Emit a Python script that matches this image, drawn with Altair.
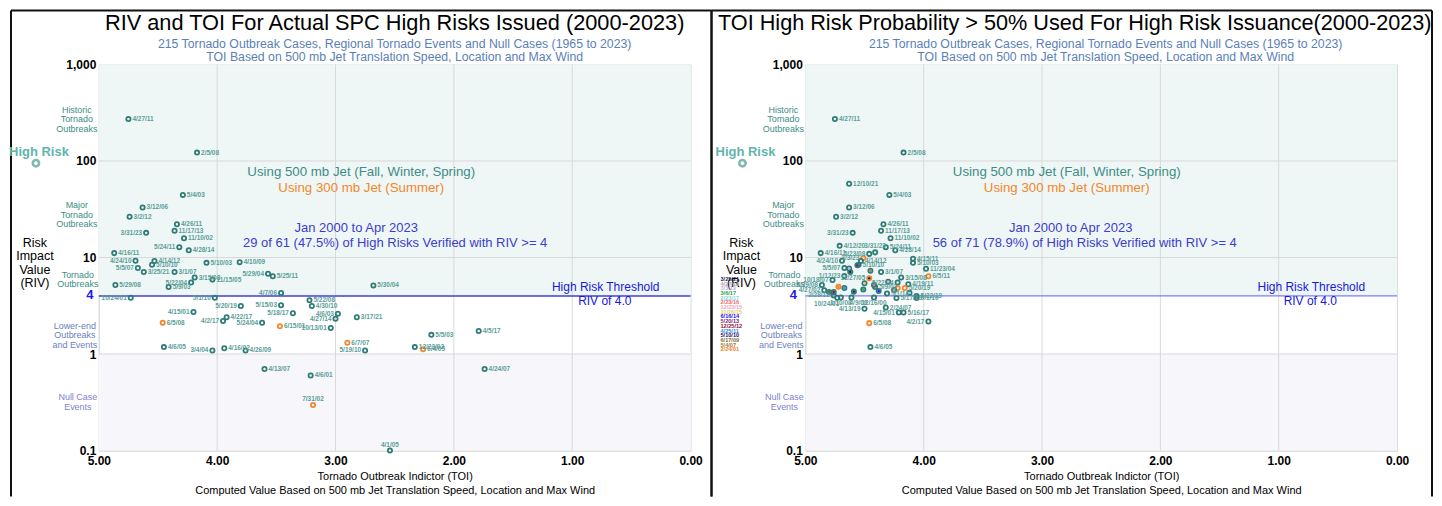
import altair as alt
import pandas as pd

FONT = "Liberation Sans"
W, H = 593, 387
TEAL = "#2f7b77"
ORANGE = "#f3862c"
LBL = "#5a9d99"
GRID = "#d9d9d9"
MINT = "#eef7f5"
LAV = "#f6f6fb"

X_TICKS = [0, 1, 2, 3, 4, 5]
Y_TICKS = [0.1, 1, 10, 100, 1000]
THRESHOLD = 4

# ---------------- left panel data ----------------
L_DATES = ["4/27/11", "2/5/08", "5/4/03", "3/12/06", "3/2/12", "4/26/11", "11/17/13", "3/31/23",
           "11/10/02", "5/24/11", "4/28/14", "4/16/11", "4/24/10", "4/14/12", "5/10/10", "5/5/07",
           "3/25/21", "3/1/07", "3/15/08", "11/15/05", "5/22/04", "5/9/03", "5/29/08", "5/10/03",
           "4/10/09", "5/29/04", "5/25/11", "5/30/04", "4/7/06", "10/24/01", "5/1/10", "5/20/19",
           "5/15/03", "5/22/08", "4/30/10", "4/15/01", "5/18/17", "4/6/03", "4/22/17", "4/2/17",
           "3/17/21", "4/27/14", "5/24/04", "10/13/01", "4/6/05", "3/4/04", "4/16/02", "4/26/09",
           "5/19/10", "4/13/07", "4/6/01", "5/5/03", "4/5/17", "12/23/02", "4/24/07", "4/1/05",
           "6/5/08", "6/15/01", "6/7/07", "6/4/05", "7/31/02"]
L_TOI = [4.75, 4.17, 4.29, 4.63, 4.74, 4.34, 4.36, 4.60,
         4.28, 4.32, 4.24, 4.87, 4.69, 4.53, 4.55, 4.67,
         4.62, 4.36, 4.19, 4.04, 4.22, 4.41, 4.86, 4.09,
         3.81, 3.57, 3.53, 2.68, 3.46, 4.73, 4.02, 3.80,
         3.46, 3.22, 3.20, 4.20, 3.36, 2.98, 3.92, 3.95,
         2.82, 3.00, 3.62, 3.04, 4.45, 4.04, 3.94, 3.76,
         2.75, 3.60, 3.21, 2.19, 1.79, 2.33, 1.74, 2.54,
         4.46, 3.47, 2.90, 2.26, 3.19]
L_RIV = [272, 122, 44.5, 33, 26.4, 22.1, 18.9, 18.0,
         15.8, 12.8, 11.9, 11.1, 9.25, 9.2, 8.4, 7.8,
         7.06, 7.06, 6.2, 5.9, 5.5, 4.95, 5.2, 8.8,
         8.95, 6.8, 6.4, 5.14, 4.29, 3.83, 3.83, 3.14,
         3.2, 3.6, 3.14, 2.72, 2.64, 2.62, 2.40, 2.2,
         2.4, 2.32, 2.11, 1.86, 1.18, 1.09, 1.15, 1.09,
         1.09, 0.70, 0.60, 1.58, 1.73, 1.18, 0.70, 0.1,
         2.11, 1.94, 1.31, 1.12, 0.296]
L_SUMMER = {"6/5/08", "6/15/01", "6/7/07", "6/4/05", "7/31/02"}
L_LABEL_LEFT = {"3/31/23", "5/24/11", "4/24/10", "5/5/07", "5/22/04", "5/29/04", "4/7/06", "10/24/01",
                "5/1/10", "5/20/19", "5/15/03", "4/15/01", "5/18/17", "4/6/03", "4/2/17", "4/27/14",
                "5/24/04", "10/13/01", "3/4/04", "5/19/10"}
L_LABEL_ABOVE = {"4/1/05", "7/31/02"}

# ---------------- right panel data ----------------
R_DATES = ["4/27/11", "2/5/08", "12/10/21", "5/4/03", "3/12/06", "3/2/12", "4/26/11", "11/17/13",
           "3/31/23", "11/10/02", "4/12/20", "5/24/11", "4/28/14", "4/16/11", "5/23/08", "3/31/23 ",
           "4/24/10", "3/3/23", "4/14/12", "5/10/10", "5/5/07", "3/1/07", "1/12/23", "11/27/05",
           "3/15/08", "4/19/11", "5/22/04", "10/18/07", "5/29/08", "5/10/03", "4/15/11", "11/23/04",
           "6/5/11", "5/20/19", "5/20/19 ", "5/9/03", "4/27/02", "5/1/14", "5/22/19", "5/1/10",
           "5/17/19", "2/28/12", "10/24/01", "1/10/08", "4/9/08", "12/16/00", "4/13/19", "2/24/07",
           "4/15/01", "5/16/17", "4/2/17", "6/5/08", "4/6/05",
           "3/25/21", "c1", "c2", "c3", "c4", "c5", "c6", "c7", "c8", "c9", "c10", "c11", "c12",
           "c13", "c14", "c15"]
R_TOI = [4.75, 4.17, 4.63, 4.29, 4.63, 4.74, 4.34, 4.36,
         4.60, 4.28, 4.71, 4.32, 4.24, 4.87, 4.46, 4.41,
         4.69, 4.51, 4.53, 4.55, 4.67, 4.36, 4.67, 4.46,
         4.19, 4.13, 4.22, 4.77, 4.86, 4.09, 4.09, 3.98,
         3.96, 4.16, 4.22, 4.41, 4.84, 4.31, 4.06, 4.06,
         4.23, 4.76, 4.73, 4.70, 4.61, 4.42, 4.50, 4.32,
         4.21, 4.17, 3.96, 4.46, 4.45,
         4.62, 4.59, 4.51, 4.38, 4.67, 4.72, 4.76, 4.80, 4.56, 4.63, 4.42, 4.30, 4.50,
         4.25, 4.12, 4.45]
R_RIV = [272, 122, 58, 44.5, 33, 26.4, 22.1, 18.9,
         18.0, 15.8, 13.2, 12.8, 11.9, 11.1, 10.9, 11.3,
         9.25, 9.9, 9.2, 8.4, 7.8, 7.06, 6.44, 6.1,
         6.2, 5.28, 5.5, 5.85, 5.2, 8.8, 9.7, 7.65,
         6.4, 4.84, 4.84, 4.95, 4.58, 4.23, 3.99, 3.81,
         3.81, 4.05, 3.83, 3.85, 3.85, 3.85, 2.94, 3.03,
         2.69, 2.69, 2.17, 2.09, 1.18,
         7.06, 4.43, 4.65, 4.5, 4.84, 4.98, 4.4, 4.4, 8.3, 7.7, 5.2, 5.6, 5.4,
         4.6, 4.3, 7.3]
R_SUMMER = {"3/3/23", "11/27/05", "6/5/11", "5/20/19", "5/20/19 ", "6/5/08", "c5"}
R_LABEL_LEFT = {"3/31/23", "5/23/08", "4/24/10", "3/3/23", "5/5/07", "1/12/23", "11/27/05", "5/22/04",
                "10/18/07", "5/29/08", "4/27/02", "2/28/12", "4/13/19", "4/15/01", "4/2/17"}
R_LABEL_ABOVE = {"3/31/23 "}
R_LABEL_BELOW = {"1/10/08", "12/16/00"}
R_LABEL_BELOW_LEFT = {"10/24/01"}
R_LABEL_BELOW_RIGHT = {"4/9/08"}
R_UNLABELLED = {"5/20/19 ", "3/25/21", "c1", "c2", "c3", "c4", "c5", "c6", "c7", "c8", "c9", "c10",
                "c11", "c12", "c13", "c14", "c15"}

LEGEND_DATES = ["3/25/21", "4/27/19", "3/3/19", "3/6/17", "2/23/17", "2/23/16", "12/23/15", "11/16/15",
                "6/16/14", "5/20/13", "12/25/12", "4/25/11", "5/10/10", "6/17/09", "5/4/07", "2/24/01"]
LEGEND_COLORS = ["#1d1d5e", "#a9a9a9", "#c6b6e6", "#1fa64a", "#8fd6e8", "#ef6b6b", "#f2a2b8", "#d8cf70",
                 "#1414e6", "#7e1f86", "#8e1030", "#2f84f0", "#2c0f62", "#7d6d3a", "#a8763e", "#f0831e"]
R_LEGEND_KEY = {"3/25/21": "3/25/21", "c1": "5/10/10", "c2": "3/6/17", "c3": "6/16/14", "c4": "4/25/11",
                "c5": "2/24/01", "c6": "12/25/12", "c7": "6/17/09", "c8": "5/20/13", "c9": "3/3/19",
                "c10": "2/23/16", "c11": "12/23/15", "c12": "11/16/15", "c13": "4/27/19", "c14": "2/23/17",
                "c15": "5/4/07", "11/27/05": "3/25/21"}

ONE = pd.DataFrame({"k": [0]})

X_SCALE = alt.Scale(domain=[0, 5], reverse=True)
Y_SCALE = alt.Scale(type="log", domain=[0.1, 1000])
X_AXIS = alt.Axis(values=X_TICKS, format=".2f", labelFont=FONT, labelFontSize=12, labelFontWeight="bold",
                  labelColor="black", labelFlush=False, labelPadding=5, ticks=False, grid=False,
                  domainColor=GRID, title=None)
Y_AXIS = alt.Axis(values=Y_TICKS, format=",", labelFont=FONT, labelFontSize=12, labelFontWeight="bold",
                  labelColor="black", labelPadding=3, ticks=False, grid=False, domainColor=GRID, title=None)
X = alt.X("toi:Q", scale=X_SCALE, axis=X_AXIS)
Y = alt.Y("riv:Q", scale=Y_SCALE, axis=Y_AXIS)


def points_frame(dates, toi, riv, summer, left=(), above=(), below=(), bl=(), br=(), none=(), keys=None):
    side = []
    for d in dates:
        if d in none:
            side.append("N")
        elif d in left:
            side.append("L")
        elif d in above:
            side.append("A")
        elif d in below:
            side.append("B")
        elif d in bl:
            side.append("BL")
        elif d in br:
            side.append("BR")
        else:
            side.append("R")
    return pd.DataFrame({
        "date": [d.strip() for d in dates],
        "toi": toi,
        "riv": riv,
        "jet": ["300 mb" if d in summer else "500 mb" for d in dates],
        "side": side,
        "key": [(keys or {}).get(d, "") for d in dates],
    })


def note(text, x, y, color="black", size=12, weight="normal", align="center", line_height=None):
    kw = dict(align=align, baseline="middle", font=FONT, fontSize=size, fontWeight=weight, color=color)
    if line_height:
        kw["lineHeight"] = line_height
    return alt.Chart(ONE).mark_text(**kw).encode(x=alt.value(x), y=alt.value(y), text=alt.value(text))


def border(x=None, x2=None, y=None, y2=None):
    enc = {}
    for k, v in (("x", x), ("x2", x2), ("y", y), ("y2", y2)):
        if v is not None:
            enc[k] = alt.value(v)
    return alt.Chart(ONE).mark_rule(color="#111111", strokeWidth=2).encode(**enc)


SIDES = {
    "R": dict(align="left", dx=4, dy=0),
    "L": dict(align="right", dx=-4, dy=0),
    "A": dict(align="center", dx=0, dy=-6),
    "B": dict(align="center", dx=0, dy=6),
    "BL": dict(align="right", dx=2, dy=6),
    "BR": dict(align="left", dx=-2, dy=6),
}


def base_layers(frame_x, frame_x2):
    return [
        border(x=frame_x, y=-54, y2=433),
        border(x=frame_x2, y=-54, y2=433),
        border(x=frame_x, x2=frame_x2, y=-54),
        alt.Chart(pd.DataFrame({"toi": [5], "toi2": [0], "riv": [THRESHOLD], "riv2": [1000]}))
        .mark_rect(color=MINT).encode(x=X, x2="toi2", y=Y, y2="riv2"),
        alt.Chart(pd.DataFrame({"toi": [5], "toi2": [0], "riv": [0.1], "riv2": [1]}))
        .mark_rect(color=LAV).encode(x=X, x2="toi2", y=Y, y2="riv2"),
        alt.Chart(pd.DataFrame({"toi": [t for t in X_TICKS if 0 < t < 5]}))
        .mark_rule(color=GRID, strokeWidth=1).encode(x=X),
        alt.Chart(pd.DataFrame({"riv": [v for v in Y_TICKS if 0.1 < v < 1000]}))
        .mark_rule(color=GRID, strokeWidth=1).encode(y=Y),
    ]


def side_notes(four_x):
    return [
        note(["Historic", "Tornado", "Outbreaks"], -22, 45.5, "#3d8d87", 9, line_height=9.5),
        note("High Risk", -60, 88, "#5fb4ab", 13, "bold"),
        alt.Chart(ONE).mark_point(shape="circle", filled=False, size=40, strokeWidth=2.6, color="#4d9b95")
        .encode(x=alt.value(-63), y=alt.value(99)),
        note(["Major", "Tornado", "Outbreaks"], -22, 141, "#3d8d87", 9, line_height=9.5),
        note(["Risk", "Impact", "Value", "(RIV)"], -64, 179, "black", 12.5, line_height=13.3),
        note(["Tornado", "Outbreaks"], -21, 211, "#3d8d87", 9, line_height=9.5),
        note("4", four_x, 231, "#1a1aee", 13, "bold"),
        note(["Lower-end", "Outbreaks", "and Events"], -24, 262, "#6b7fc0", 9, line_height=9.5),
        note(["Null Case", "Events"], -21, 333.5, "#7f7fcf", 9, line_height=9.5),
        note("Tornado Outbreak Indictor (TOI)", 297, 413, "black", 11),
        note("Computed Value Based on 500 mb Jet Translation Speed, Location and Max Wind", 297, 428, "black", 11),
    ]


def point_layers(df, dom, rng):
    layers = [
        alt.Chart(df).mark_point(shape="circle", filled=False, size=18, strokeWidth=1.8, opacity=1).encode(
            x=X, y=Y, color=alt.Color("jet:N", scale=alt.Scale(domain=dom, range=rng), legend=None)),
    ]
    for s, cfg in SIDES.items():
        layers.append(
            alt.Chart(df).transform_filter(alt.datum.side == s).mark_text(
                font=FONT, fontSize=6.5, fontWeight="bold", color=LBL, baseline="middle", **cfg)
            .encode(x=X, y=Y, text="date:N"))
    return layers


# ---------------- left panel ----------------
ldf = points_frame(L_DATES, L_TOI, L_RIV, L_SUMMER, left=L_LABEL_LEFT, above=L_LABEL_ABOVE)
left_layers = base_layers(-88, 614)
left_layers.append(alt.Chart(pd.DataFrame({"toi": [5], "toi2": [0], "riv": [THRESHOLD]}))
                   .mark_rule(color="#4040d8", strokeWidth=1.5).encode(x=X, x2="toi2", y=Y))
left_layers += point_layers(ldf, ["500 mb", "300 mb"], [TEAL, ORANGE])
left_layers += side_notes(-9)
left_layers += [
    note("RIV and TOI For Actual SPC High Risks Issued (2000-2023)", 296.5, -41, "black", 21.8),
    note("215 Tornado Outbreak Cases, Regional Tornado Events and Null Cases (1965 to 2023)", 296.5, -20, "#5b7fb8", 12.3),
    note("TOI Based on 500 mb Jet Translation Speed, Location and Max Wind", 296.5, -7, "#5b7fb8", 12.3),
    note("Using 500 mb Jet (Fall, Winter, Spring)", 263, 108, "#3f8c86", 13.3),
    note("Using 300 mb Jet (Summer)", 263, 124, ORANGE, 13.3),
    note("Jan 2000 to Apr 2023", 258, 164, "#3c3ccf", 13),
    note("29 of 61 (47.5%) of High Risks Verified with RIV >= 4", 297, 179, "#3c3ccf", 13),
    note("High Risk Threshold", 508, 223, "#1717e0", 12),
    note("RIV of 4.0", 507, 237, "#1717e0", 12),
]
left = alt.layer(*left_layers).properties(width=W, height=H)

# ---------------- right panel ----------------
rdf = points_frame(R_DATES, R_TOI, R_RIV, R_SUMMER, left=R_LABEL_LEFT, above=R_LABEL_ABOVE,
                   below=R_LABEL_BELOW, bl=R_LABEL_BELOW_LEFT, br=R_LABEL_BELOW_RIGHT,
                   none=R_UNLABELLED, keys=R_LEGEND_KEY)
right_layers = base_layers(-94, 628)
right_layers.append(alt.Chart(pd.DataFrame({"toi": [5], "toi2": [0], "riv": [THRESHOLD]}))
                    .mark_rule(color="#5c5cff", strokeWidth=1).encode(x=X, x2="toi2", y=Y))
right_layers += point_layers(rdf, ["500 mb", "300 mb"], [TEAL, ORANGE])
right_layers.append(
    alt.Chart(rdf).transform_filter(alt.datum.key != "").mark_circle(size=6, opacity=1).encode(
        x=X, y=Y, color=alt.Color("key:N", scale=alt.Scale(domain=LEGEND_DATES, range=LEGEND_COLORS), legend=None)))
right_layers += side_notes(-12)
for i, (d, c) in enumerate(zip(LEGEND_DATES, LEGEND_COLORS)):
    right_layers.append(note(d, -85, 215 + i * 4.7, c, 5.6, "bold", align="left"))
right_layers += [
    note("TOI High Risk Probability > 50% Used For High Risk Issuance(2000-2023)", 270, -41, "black", 21.7),
    note("215 Tornado Outbreak Cases, Regional Tornado Events and Null Cases (1965 to 2023)", 301, -20, "#5b7fb8", 12.3),
    note("TOI Based on 500 mb Jet Translation Speed, Location and Max Wind", 301, -7, "#5b7fb8", 12.3),
    note("Using 500 mb Jet (Fall, Winter, Spring)", 262, 108, "#3f8c86", 13.3),
    note("Using 300 mb Jet (Summer)", 262, 124, ORANGE, 13.3),
    note("Jan 2000 to Apr 2023", 266, 164, "#3c3ccf", 13),
    note("56 of 71 (78.9%) of High Risks Verified with RIV >= 4", 280, 179, "#3c3ccf", 13),
    note("High Risk Threshold", 507, 223, "#1717e0", 12),
    note("RIV of 4.0", 506, 237, "#1717e0", 12),
]
right = alt.layer(*right_layers).resolve_scale(color="independent").properties(width=W, height=H)

chart = (
    alt.hconcat(left, right, spacing=115, bounds="flush")
    .resolve_scale(color="independent")
    .properties(padding=0, background="white")
    .configure_view(stroke=GRID)
)

chart.save("out.html", embed_options={"renderer": "svg", "actions": False})
